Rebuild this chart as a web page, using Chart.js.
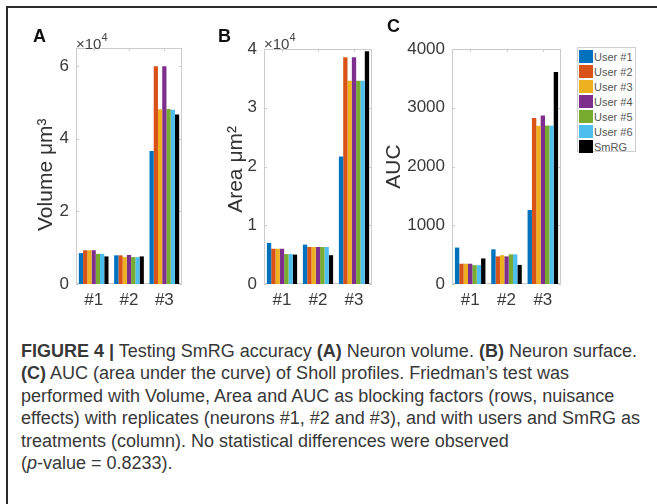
<!DOCTYPE html>
<html lang="en">
<head>
  <meta charset="UTF-8" />
  <title>Figure 4 - Testing SmRG accuracy</title>
  <script src="https://cdn.jsdelivr.net/npm/chart.js"></script>
  <style>
    body { margin: 0; width: 657px; height: 504px; position: relative; overflow: hidden; background: #fff; font-family: "Liberation Sans", Arial, sans-serif; }
    canvas { position: absolute; top: 0; }
    .frameTop { position: absolute; left: 6px; top: 6px; width: 651px; border-top: 2px solid #2b2b2b; }
    .frameLeft { position: absolute; left: 6px; top: 6px; height: 498px; border-left: 2px solid #2b2b2b; }
    .letter { position: absolute; font-weight: bold; font-size: 18px; color: #111; line-height: 18px; }
    .exp { position: absolute; font-size: 15px; color: #444; line-height: 15px; }
    .exp sup { font-size: 11px; position: relative; top: -2px; }
    #legend { position: absolute; left: 577px; top: 47px; width: 59px; height: 105px; border: 1px solid #cfcfcf; box-sizing: border-box; padding: 1px 0 0 1px; }
    #legend div { height: 15px; display: flex; align-items: center; font-size: 11px; color: #555; }
    #legend span.sw { width: 14px; height: 13px; margin-right: 1px; }
    #caption { position: absolute; left: 21px; top: 340px; font-size: 18px; line-height: 22.4px; color: #383838; white-space: nowrap; }
  </style>
</head>
<body>

  <div class="frameTop"></div>
  <div class="frameLeft"></div>

  <canvas id="chartA" width="195" height="330" style="left:0px"></canvas>
  <canvas id="chartB" width="195" height="330" style="left:190px"></canvas>
  <canvas id="chartC" width="200" height="330" style="left:370px"></canvas>

  <div class="letter" style="left:33px; top:27px;">A</div>
  <div class="letter" style="left:218px; top:27px;">B</div>
  <div class="letter" style="left:387px; top:17px;">C</div>
  <div class="exp" style="left:76px; top:32px;">×10<sup>4</sup></div>
  <div class="exp" style="left:264px; top:32px;">×10<sup>4</sup></div>

  <div id="legend"></div>

  <div id="caption">
    <b>FIGURE 4 |</b> Testing SmRG accuracy <b>(A)</b> Neuron volume. <b>(B)</b> Neuron surface.<br>
    <b>(C)</b> AUC (area under the curve) of Sholl profiles. Friedman’s test was<br>
    performed with Volume, Area and AUC as blocking factors (rows, nuisance<br>
    effects) with replicates (neurons #1, #2 and #3), and with users and SmRG as<br>
    treatments (column). No statistical differences were observed<br>
    (<i>p</i>-value = 0.8233).
  </div>

  <script>
    const neurons = ['#1', '#2', '#3'];
    const seriesLabels = ['User #1', 'User #2', 'User #3', 'User #4', 'User #5', 'User #6', 'SmRG'];
    const seriesColors = ['#0072BD', '#D95319', '#EDB120', '#7E2F8E', '#77AC30', '#4DBEEE', '#000000'];

    // one row per series (User #1 .. SmRG), one value per neuron
    const volume = [
      [8500, 7900, 36600],
      [9300, 7900, 60000],
      [9300, 7400, 48100],
      [9300, 8000, 60000],
      [8300, 7400, 48200],
      [8300, 7400, 48000],
      [7600, 7600, 46700]
    ];
    const area = [
      [7000, 6700, 21700],
      [6000, 6300, 38600],
      [6000, 6300, 34600],
      [6000, 6300, 38600],
      [5100, 6300, 34600],
      [5100, 6300, 34600],
      [5000, 4900, 39600]
    ];
    const auc = [
      [620, 590, 1260],
      [345, 470, 2824],
      [345, 490, 2693],
      [345, 470, 2869],
      [320, 505, 2699],
      [320, 505, 2693],
      [435, 325, 3608]
    ];

    const volumeTicks = [0, 20000, 40000, 60000];
    const areaTicks = [0, 10000, 20000, 30000, 40000];
    const aucTicks = [0, 1000, 2000, 3000, 4000];

    const tickColor = '#3a3a3a';

    // light gray axes box with small inner tick marks, like the MATLAB figure
    const boxPlugin = {
      id: 'box',
      beforeDatasetsDraw(chart) {
        const { ctx, chartArea: a, scales: { x, y } } = chart;
        ctx.save();
        ctx.strokeStyle = '#cccccc';
        ctx.lineWidth = 1;
        ctx.strokeRect(Math.round(a.left) + 0.5, Math.round(a.top) + 0.5,
          Math.round(a.right - a.left) - 1, Math.round(a.bottom - a.top) - 1);
        ctx.beginPath();
        y.ticks.forEach(t => {
          const py = Math.round(y.getPixelForValue(t.value)) + 0.5;
          ctx.moveTo(a.left, py); ctx.lineTo(a.left + 3, py);
          ctx.moveTo(a.right, py); ctx.lineTo(a.right - 3, py);
        });
        x.ticks.forEach((t, i) => {
          const px = Math.round(x.getPixelForTick(i)) + 0.5;
          ctx.moveTo(px, a.top); ctx.lineTo(px, a.top + 3);
          ctx.moveTo(px, a.bottom); ctx.lineTo(px, a.bottom - 3);
        });
        ctx.stroke();
        ctx.restore();
      }
    };

    function makePanel(id, rows, tickList, max, label, fmt, yWidth, titlePad, padTop, padRight) {
      const datasets = rows.map((vals, i) => ({
        label: seriesLabels[i],
        data: vals,
        backgroundColor: seriesColors[i],
        borderWidth: 0,
        categoryPercentage: 0.84,
        barPercentage: 1.0
      }));

      return new Chart(document.getElementById(id), {
        type: 'bar',
        data: { labels: neurons, datasets: datasets },
        options: {
          responsive: false,
          animation: false,
          devicePixelRatio: 1,
          layout: { padding: { top: padTop, right: padRight, left: 0, bottom: 0 } },
          plugins: { legend: { display: false }, tooltip: { enabled: false } },
          scales: {
            x: {
              grid: { display: false, drawTicks: false },
              border: { display: false },
              ticks: { color: tickColor, font: { size: 17, family: 'Liberation Sans' }, padding: 6 },
              afterFit: s => { s.height = 46; }
            },
            y: {
              min: 0,
              max: max,
              grid: { display: false, drawTicks: false },
              border: { display: false },
              afterBuildTicks: s => { s.ticks = tickList.map(v => ({ value: v })); },
              ticks: { color: tickColor, font: { size: 17, family: 'Liberation Sans' }, padding: 7, callback: fmt },
              title: {
                display: true,
                text: label,
                color: '#333',
                font: { size: 21, family: 'Liberation Sans' },
                padding: { top: titlePad, bottom: 0 }
              },
              afterFit: s => { s.width = yWidth; }
            }
          }
        },
        plugins: [boxPlugin]
      });
    }

    // trailing spaces nudge the rotated titles down a little, as in the figure
    makePanel('chartA', volume, volumeTicks, 65000, 'Volume μm³\u00a0\u00a0\u00a0', v => v / 10000, 76, 34, 48, 13);
    makePanel('chartB', area, areaTicks, 40000, 'Area μm²\u00a0', v => v / 10000, 74, 34, 49, 13);
    makePanel('chartC', auc, aucTicks, 4000, 'AUC', v => v, 82, 12, 49, 9);

    // legend box
    const legend = document.getElementById('legend');
    seriesLabels.forEach((name, i) => {
      const row = document.createElement('div');
      const sw = document.createElement('span');
      sw.className = 'sw';
      sw.style.background = seriesColors[i];
      row.appendChild(sw);
      row.appendChild(document.createTextNode(name));
      legend.appendChild(row);
    });
  </script>
</body>
</html>
